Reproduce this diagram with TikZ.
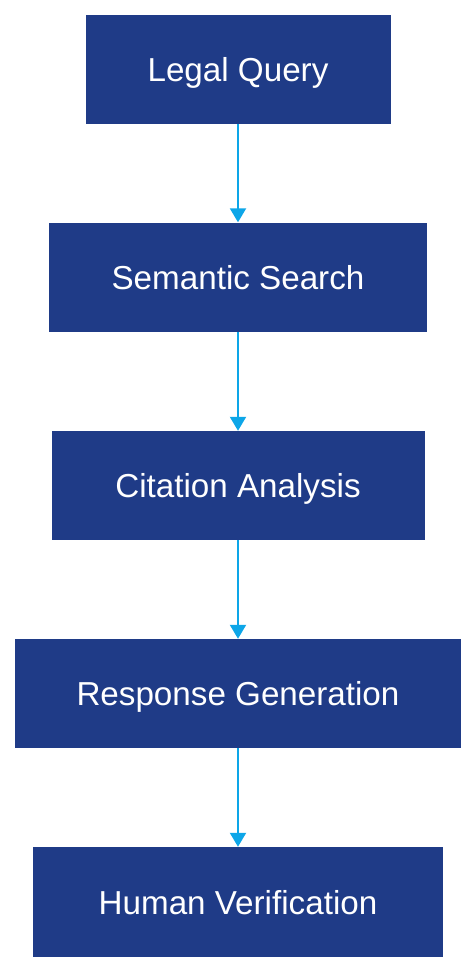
\documentclass[tikz,border=0pt]{standalone}
\usepackage{fontspec}
\setmainfont{Liberation Sans}
\usepackage{tikz}
\usetikzlibrary{arrows.meta}
\definecolor{boxnavy}{rgb}{0.12,0.23,0.53}
\definecolor{arrowsky}{rgb}{0.05,0.65,0.91}

\begin{document}
\begin{tikzpicture}[line cap=butt,line join=miter,x=1pt,y=1pt,
    stage/.style={fill=boxnavy,draw=none,text=white,minimum height=109pt,inner sep=0pt,
      text height=24pt,text depth=0pt,font=\fontsize{33.2}{40}\selectfont},
    flow/.style={draw=arrowsky,line width=2pt,-{Triangle[width=16pt,length=14pt]}}]
	\useasboundingbox (0,0) rectangle (476,-972);
	\node[stage,minimum width=305pt] (query) at (238,-69.5) {Legal Query};
	\node[stage,minimum width=378pt] (search) at (238,-277) {Semantic Search};
	\node[stage,minimum width=373pt] (citation) at (238,-485.5) {Citation Analysis};
	\node[stage,minimum width=446pt] (response) at (238,-693.5) {Response Generation};
	\node[stage,minimum width=410pt,minimum height=110pt] (human) at (238,-902) {Human Verification};
	\draw[flow] (query) -- (search);
	\draw[flow] (search) -- (citation);
	\draw[flow] (citation) -- (response);
	\draw[flow] (response) -- (human);
\end{tikzpicture}
\end{document}
